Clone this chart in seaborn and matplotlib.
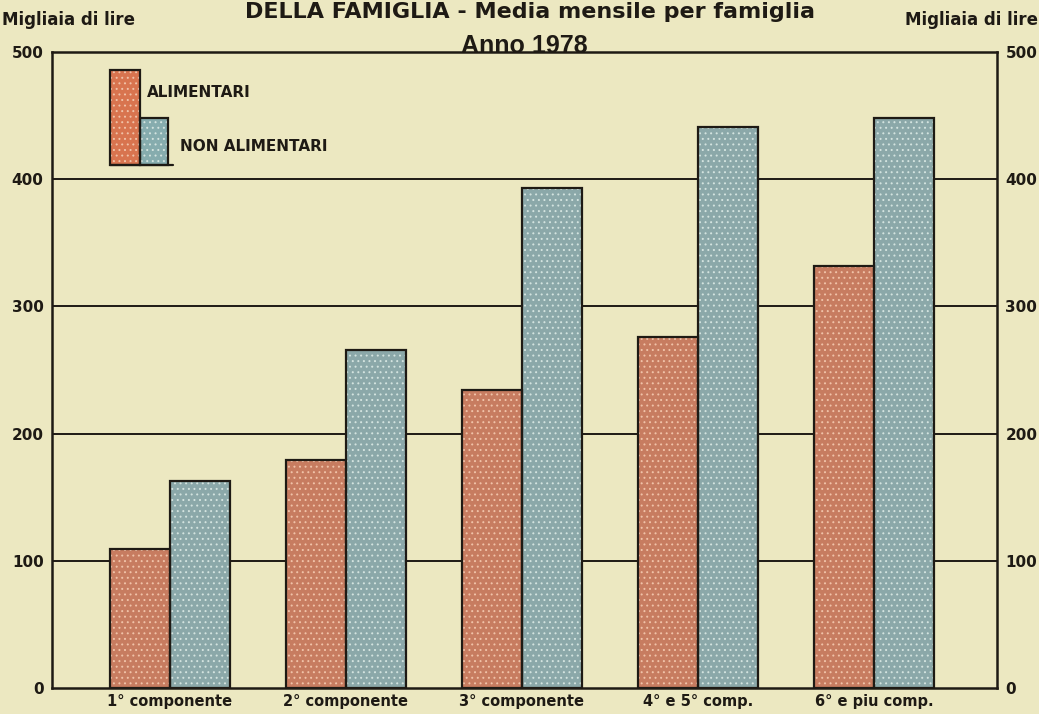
import pandas as pd
import numpy as np
import matplotlib.pyplot as plt
from matplotlib.patches import Rectangle
import seaborn as sns

# dati (migliaia di lire, media mensile per famiglia, 1978)
categorie = ["1° componente", "2° componente", "3° componente", "4° e 5° comp.", "6° e piu comp."]
alimentari = [109, 179, 234, 276, 332]
non_alimentari = [163, 266, 393, 441, 448]
serie = ["ALIMENTARI", "NON ALIMENTARI"]
yticks = [0, 100, 200, 300, 400, 500]

df = pd.DataFrame({
    "categoria": categorie * 2,
    "serie": [serie[0]] * 5 + [serie[1]] * 5,
    "valore": alimentari + non_alimentari,
})

bg = "#ece8c1"
colori = {"ALIMENTARI": "#d8744f", "NON ALIMENTARI": "#86acae"}
punti = {"ALIMENTARI": "#f0c2a8", "NON ALIMENTARI": "#d3e3df"}
ink = "#1e1a14"

sns.set_style("white")
plt.rcParams["font.family"] = ["Liberation Sans Narrow", "DejaVu Sans"]
plt.rcParams["hatch.linewidth"] = 0.7

fig = plt.figure(figsize=(10.39, 7.14), dpi=100, facecolor=bg)
ax = fig.add_axes([0.050, 0.0364, 0.9096, 0.8906])
ax.set_facecolor(bg)

sns.barplot(data=df, x="categoria", y="valore", hue="serie", palette=colori,
            width=0.68, dodge=True, legend=False, ax=ax, zorder=3)

for p in ax.patches:
    fc = p.get_facecolor()
    key = "ALIMENTARI" if fc[0] > 0.7 else "NON ALIMENTARI"
    p.set_edgecolor(punti[key])
    p.set_hatch("...")
    p.set_linewidth(0)
    ax.add_patch(Rectangle((p.get_x(), 0), p.get_width(), p.get_height(),
                           fill=False, edgecolor=ink, lw=1.6, zorder=4))

ax.set_xlim(-0.67, 4.70)
ax.set_ylim(0, 500)
ax.set_yticks(yticks)
for y in yticks[1:-1]:
    ax.axhline(y, color=ink, lw=1.4, zorder=1)

for s in ax.spines.values():
    s.set_color(ink)
    s.set_linewidth(1.8)

ax.tick_params(axis="y", length=0, pad=6, labelsize=11, labelcolor=ink,
               left=True, right=True, labelleft=True, labelright=True)
for t in ax.get_yticklabels():
    t.set_fontweight("bold")
ax.tick_params(axis="x", length=0, pad=4, labelsize=10.5, labelcolor=ink)
for t in ax.get_xticklabels():
    t.set_fontweight("bold")
ax.set_xlabel("")
ax.set_ylabel("")

# legenda disegnata come nell'originale
def px(x, y):
    return (x - 52) / 945, (688 - y) / 636

x0, y0 = px(110, 165)
x1, _ = px(140, 165)
for xs, w, h, key in [(x0, 30, 95, "ALIMENTARI"), (x1, 28, 47, "NON ALIMENTARI")]:
    ax.add_patch(Rectangle((xs, y0), w / 945, h / 636, transform=ax.transAxes,
                           facecolor=colori[key], edgecolor=punti[key],
                           hatch="...", lw=0, zorder=5))
    ax.add_patch(Rectangle((xs, y0), w / 945, h / 636, transform=ax.transAxes,
                           fill=False, edgecolor=ink, lw=1.6, zorder=6))
ax.plot([x0, px(173, 165)[0]], [y0, y0], transform=ax.transAxes, color=ink, lw=1.6, zorder=6)
ax.text(*px(147, 92), "ALIMENTARI", transform=ax.transAxes, fontsize=11,
        fontweight="bold", color=ink, va="center", ha="left")
ax.text(*px(180, 146), "NON ALIMENTARI", transform=ax.transAxes, fontsize=11,
        fontweight="bold", color=ink, va="center", ha="left")

# titoli e unità
fig.text(0.51, 1 - 18 / 714, "DELLA FAMIGLIA - Media mensile per famiglia",
         ha="center", va="baseline", fontsize=16, fontweight="bold", color=ink)
fig.text(0.505, 1 - 46 / 714, "Anno 1978", ha="center", va="center",
         fontsize=18, fontweight="bold", color=ink, family=["Liberation Sans", "DejaVu Sans"])
fig.text(0.002, 1 - 20 / 714, "Migliaia di lire", ha="left", va="center",
         fontsize=12, fontweight="bold", color=ink)
fig.text(0.999, 1 - 20 / 714, "Migliaia di lire", ha="right", va="center",
         fontsize=12, fontweight="bold", color=ink)

fig.savefig("out.png", dpi=100, facecolor=bg)
